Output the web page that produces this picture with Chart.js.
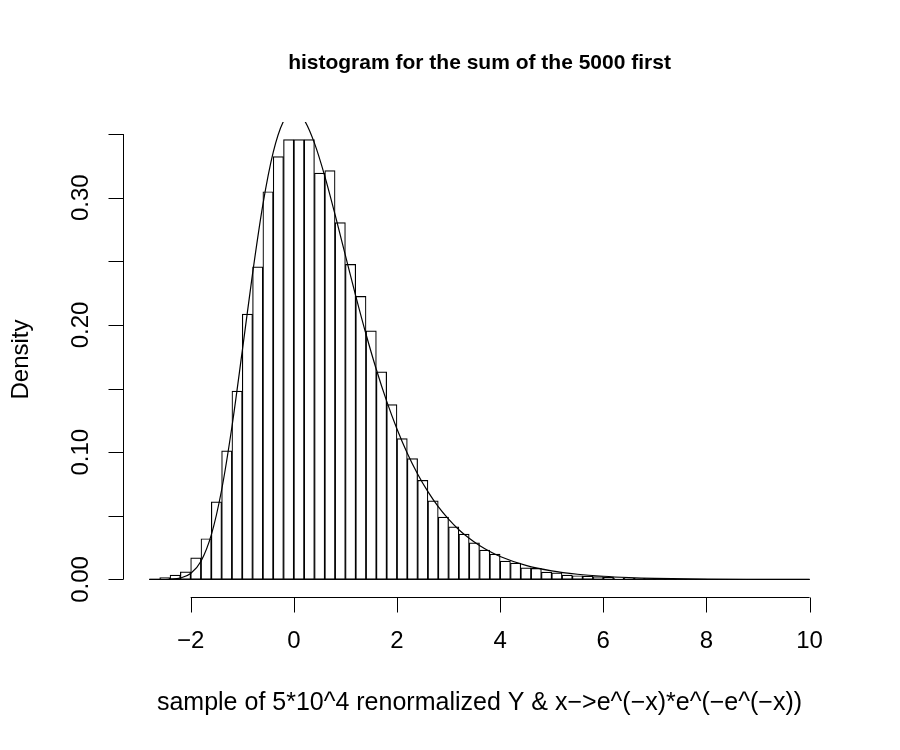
<html>
<head>
  <meta charset="utf-8">
  <script type="text/javascript" src="https://cdn.jsdelivr.net/npm/chart.js@4.4.1/dist/chart.umd.min.js"></script>
  <style>
    body { margin: 0; background: #fff; }
    canvas { display: block; }
  </style>
</head>
<body>
  <canvas id="ctx" width="900" height="750"></canvas>

  <script type="text/javascript">

    // histogram bins (width 0.2), midpoints and densities
    binMids = [-2.7, -2.5, -2.3, -2.1, -1.9, -1.7, -1.5, -1.3, -1.1, -0.9,
      -0.7, -0.5, -0.3, -0.1, 0.1, 0.3, 0.5, 0.7, 0.9, 1.1,
      1.3, 1.5, 1.7, 1.9, 2.1, 2.3, 2.5, 2.7, 2.9, 3.1,
      3.3, 3.5, 3.7, 3.9, 4.1, 4.3, 4.5, 4.7, 4.9, 5.1,
      5.3, 5.5, 5.7, 5.9, 6.1, 6.3, 6.5, 6.7, 6.9, 7.1,
      7.3, 7.5, 7.7, 7.9, 8.1, 8.3, 8.5, 8.7, 8.9, 9.1,
      9.3, 9.5, 9.7, 9.9];
    binDensity = [0.0003, 0.0015, 0.0034, 0.0060, 0.0170, 0.0320, 0.0610, 0.1010, 0.1480, 0.2085,
      0.2457, 0.3047, 0.3323, 0.3457, 0.3457, 0.3457, 0.3194, 0.3213, 0.2804, 0.2476,
      0.2224, 0.1954, 0.1631, 0.1374, 0.1107, 0.0949, 0.0779, 0.0618, 0.0490, 0.0414,
      0.0356, 0.0288, 0.0230, 0.0199, 0.0144, 0.0128, 0.0091, 0.0087, 0.0057, 0.0052,
      0.0034, 0.0029, 0.0026, 0.0022, 0.0019, 0.0013, 0.0011, 0.0009, 0.0007, 0.0005,
      0.0004, 0.0003, 0.0002, 0.0002, 0.0001, 0.0001, 0.0001, 0.0001, 0, 0.0001,
      0, 0, 0, 0.0001];
    binWidth = 0.2;

    // the overlaid density curve
    curveX = [-2.8, -2.6, -2.4, -2.2, -2.0, -1.8, -1.6, -1.4, -1.2,
      -1.0, -0.8, -0.6, -0.4, -0.2, 0.0, 0.2, 0.4, 0.6, 0.8,
      1.0, 1.2, 1.4, 1.6, 1.8, 2.0, 2.2, 2.4, 2.6, 2.8,
      3.0, 3.2, 3.4, 3.6, 3.8, 4.0, 4.5, 5.0, 5.5, 6.0,
      6.5, 7.0, 8.0, 9.0, 10.0];
    curveY = [0.0000, 0.0000, 0.0002, 0.0011, 0.0046, 0.0143, 0.0350, 0.0703, 0.1200,
      0.1794, 0.2404, 0.2946, 0.3356, 0.3601, 0.3679, 0.3611, 0.3429, 0.3170, 0.2867,
      0.2546, 0.2229, 0.1927, 0.1650, 0.1401, 0.1182, 0.0992, 0.0829, 0.0690, 0.0572,
      0.0474, 0.0391, 0.0323, 0.0266, 0.0219, 0.0180, 0.0110, 0.0067, 0.0041, 0.0025,
      0.0015, 0.0009, 0.0003, 0.0001, 0.0000];

    xTicks = [-2, 0, 2, 4, 6, 8, 10];
    xTickLabels = ['\u22122', '0', '2', '4', '6', '8', '10'];
    yTicks = [0, 0.05, 0.10, 0.15, 0.20, 0.25, 0.30, 0.35];
    yTickLabels = ['0.00', '', '0.10', '', '0.20', '', '0.30', ''];

    titleText = 'histogram for the sum of the 5000 first';
    xTitle = 'sample of 5*10^4 renormalized Y & x\u2212>e^(\u2212x)*e^(\u2212e^(\u2212x))';
    yTitle = 'Density';

    FONT = '"Liberation Sans", Arial, Helvetica, sans-serif';

    hist = binMids.map(function(m, i) { return {x: m, y: binDensity[i]}; });
    curve = curveX.map(function(x, i) { return {x: x, y: curveY[i]}; });
    baseline = [{x: binMids[0] - binWidth / 2, y: 0}, {x: binMids[binMids.length - 1] + binWidth / 2, y: 0}];

    // R style axes: lines only over the tick range, ticks outside
    rAxes = {
      id: 'rAxes',
      afterDraw: function(chart) {
        var c = chart.ctx, a = chart.chartArea;
        var sx = chart.scales.x, sy = chart.scales.y;
        c.save();
        c.strokeStyle = '#000';
        c.fillStyle = '#000';
        c.lineWidth = 1;

        // x axis
        var yb = Math.round(a.bottom) + 0.5;
        c.beginPath();
        c.moveTo(sx.getPixelForValue(xTicks[0]), yb);
        c.lineTo(sx.getPixelForValue(xTicks[xTicks.length - 1]), yb);
        xTicks.forEach(function(t) {
          var px = Math.round(sx.getPixelForValue(t)) + 0.5;
          c.moveTo(px, yb);
          c.lineTo(px, yb + 15);
        });
        c.stroke();
        c.font = '24px ' + FONT;
        c.textAlign = 'center';
        c.textBaseline = 'alphabetic';
        xTicks.forEach(function(t, i) {
          c.fillText(xTickLabels[i], sx.getPixelForValue(t), 648);
        });

        // y axis
        var xl = Math.round(a.left) + 0.5;
        c.beginPath();
        c.moveTo(xl, sy.getPixelForValue(yTicks[0]));
        c.lineTo(xl, sy.getPixelForValue(yTicks[yTicks.length - 1]));
        yTicks.forEach(function(t) {
          var py = Math.round(sy.getPixelForValue(t)) + 0.5;
          c.moveTo(xl, py);
          c.lineTo(xl - 15, py);
        });
        c.stroke();
        yTicks.forEach(function(t, i) {
          if (!yTickLabels[i]) return;
          c.save();
          c.translate(88, sy.getPixelForValue(t));
          c.rotate(-Math.PI / 2);
          c.fillText(yTickLabels[i], 0, 0);
          c.restore();
        });

        // titles
        var cx = (a.left + a.right) / 2;
        c.save();
        c.translate(28, (a.top + a.bottom) / 2);
        c.rotate(-Math.PI / 2);
        c.fillText(yTitle, 0, 0);
        c.restore();
        c.font = '25px ' + FONT;
        c.fillText(xTitle, cx, 710);
        c.font = 'bold 21px ' + FONT;
        c.fillText(titleText, cx, 69);
        c.restore();
      }
    };

    chart = new Chart(document.getElementById('ctx'), {
      type: 'bar',
      data: {
        datasets: [{
          type: 'line',
          data: curve,
          borderColor: '#000',
          borderWidth: 1.2,
          pointRadius: 0,
          cubicInterpolationMode: 'monotone',
          fill: false
        }, {
          type: 'line',
          data: baseline,
          borderColor: '#000',
          borderWidth: 1,
          pointRadius: 0,
          fill: false
        }, {
          data: hist,
          backgroundColor: '#fff',
          borderColor: '#000',
          borderWidth: 1.2,
          borderSkipped: false,
          barPercentage: 1,
          categoryPercentage: 1,
          grouped: false
        }]
      },
      options: {
        responsive: false,
        animation: false,
        layout: {
          padding: {left: 123, right: 64, top: 122, bottom: 153}
        },
        plugins: {
          legend: {display: false},
          tooltip: {enabled: false},
          title: {display: false}
        },
        scales: {
          x: {type: 'linear', min: -3.312, max: 10.512, offset: false, display: false},
          y: {type: 'linear', min: -0.0138, max: 0.3595, display: false}
        }
      },
      plugins: [rAxes]
    });

  </script>
</body>
</html>
